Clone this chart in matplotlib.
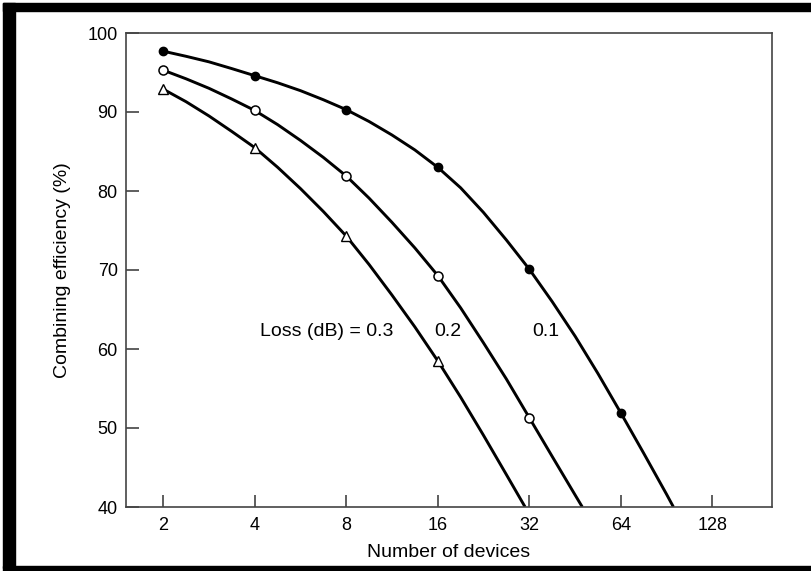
import matplotlib
matplotlib.use('Agg')
import matplotlib.pyplot as plt
from matplotlib.patches import Rectangle
from matplotlib.ticker import FixedLocator, NullLocator

plt.rcParams['font.family'] = ['Liberation Sans', 'DejaVu Sans']

# marker points
devices = [2, 4, 8, 16, 32, 64]
eff_01 = [97.7, 94.6, 90.3, 83.0, 70.1, 51.9]
eff_02 = [95.3, 90.2, 81.9, 69.3, 51.3]
eff_03 = [92.9, 85.5, 74.3, 58.5]

# readings along the drawn curves, quarter-octave steps, last one where each hits 40
curve_x = [2, 2.38, 2.83, 3.36, 4, 4.76, 5.66, 6.73, 8, 9.51, 11.3, 13.45,
           16, 19.03, 22.6, 26.9, 32, 38.05, 45.3, 53.8, 64, 76.1, 90.5]
curve_y_01 = [97.7, 97.05, 96.35, 95.5, 94.6, 93.7, 92.7, 91.55, 90.3, 88.8, 87.1, 85.2,
              83.0, 80.4, 77.3, 73.8, 70.1, 66.0, 61.6, 56.9, 51.9, 46.8, 41.6]
curve_y_02 = [95.3, 94.2, 93.0, 91.65, 90.2, 88.4, 86.4, 84.25, 81.9, 79.1, 76.05, 72.8,
              69.3, 65.2, 60.8, 56.2, 51.3, 46.4, 41.5]
curve_y_03 = [92.9, 91.3, 89.5, 87.55, 85.5, 83.0, 80.3, 77.4, 74.3, 70.7, 66.85, 62.8,
              58.5, 53.9, 49.1, 44.1]
end_x = {'0.1': 95.3, '0.2': 47.8, '0.3': 31.0}

xticks = [2, 4, 8, 16, 32, 64, 128]
yticks = [40, 50, 60, 70, 80, 90, 100]

fig = plt.figure(figsize=(8.12, 5.71), dpi=100)
ax = fig.add_axes([126 / 812, 1 - 507 / 571, 646 / 812, 474 / 571])

lw = 2.1
for key, ys in [('0.1', curve_y_01), ('0.2', curve_y_02), ('0.3', curve_y_03)]:
    xs = curve_x[:len(ys)] + [end_x[key]]
    ax.plot(xs, ys + [40.0], color='black', lw=lw,
            solid_joinstyle='round', solid_capstyle='butt', clip_on=True)

ax.plot(devices, eff_01, 'o', ms=6, mfc='black', mec='black', ls='none')
ax.plot(devices[:5], eff_02, 'o', ms=6.5, mfc='white', mec='black', mew=1.1, ls='none')
ax.plot(devices[:4], eff_03, '^', ms=6.5, mfc='white', mec='black', mew=1.0, ls='none')

ax.set_xscale('log', base=2)
ax.set_xlim(1.51, 201)
ax.set_ylim(40, 100)
ax.xaxis.set_major_locator(FixedLocator(xticks))
ax.xaxis.set_minor_locator(NullLocator())
ax.set_xticklabels([str(v) for v in xticks])
ax.set_yticks(yticks)

for s in ax.spines.values():
    s.set_color('#444444')
    s.set_linewidth(1.2)
ax.tick_params(direction='in', length=9, width=1.1, color='#333333', labelsize=13)
ax.tick_params(axis='x', pad=7)
ax.tick_params(axis='y', pad=6)

ax.set_xlabel('Number of devices', fontsize=14, va='center')
ax.set_ylabel('Combining efficiency (%)', fontsize=14, va='center')
ax.xaxis.set_label_coords(0.5, -0.095)
ax.yaxis.set_label_coords(-0.099, 0.5)

ax.text(4.17, 62.2, 'Loss (dB) = 0.3', fontsize=14, ha='left', va='center')
ax.text(15.6, 62.2, '0.2', fontsize=14, ha='left', va='center')
ax.text(32.7, 62.2, '0.1', fontsize=14, ha='left', va='center')

# thick black frame on left, top and bottom
W, H = 812, 571
for (x0, y0, w, h) in [(3, 3, 12, 565), (3, 3, 809, 8), (3, 566, 809, 5)]:
    fig.patches.append(Rectangle((x0 / W, 1 - (y0 + h) / H), w / W, h / H,
                                 transform=fig.transFigure, color='black', zorder=10))

fig.savefig('out.png', dpi=100)
